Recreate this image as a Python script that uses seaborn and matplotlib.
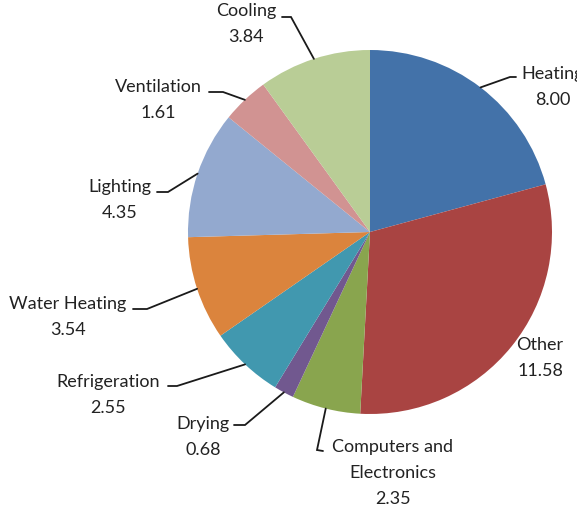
import numpy as np
import matplotlib
matplotlib.use("Agg")
import matplotlib.pyplot as plt
import seaborn as sns

# Energy end-use shares, drawn clockwise from 12 o'clock
categories = ["Heating", "Other", "Computers and\nElectronics", "Drying",
              "Refrigeration", "Water Heating", "Lighting", "Ventilation", "Cooling"]
values = [8.00, 11.58, 2.35, 0.68, 2.55, 3.54, 4.35, 1.61, 3.84]
colors = ["#4372A9", "#A94442", "#89A54E", "#71588F", "#4198AF",
          "#DB843D", "#93A9CF", "#D19392", "#B9CD96"]

# Label layout in pixels: text block centre, leader knee, leader end (None = no leader)
W, H = 577, 514
CX, CY, R = 370, 232, 182
label_centers = [(553, 87), (540, 358), (393, 473), (203, 437), (108, 395),
                 (68, 317), (120, 200), (158, 100), (246, 24)]
leader_knees = [(510, 77), None, (317, 450), (245, 425), (177, 386),
                (147, 309), (168, 192), (223, 92), (291, 17)]
leader_ends = [(516, 77), None, (323, 451), (234, 425), (168, 386),
               (133, 309), (157, 192), (209, 92), (282, 17)]

sns.set_theme(style="white")
plt.rcParams["font.family"] = ["Lato", "DejaVu Sans"]


def to_data(p):
    return ((p[0] - CX) / R, (CY - p[1]) / R)


fig = plt.figure(figsize=(W / 100, H / 100), dpi=100)
ax = fig.add_axes([0, 0, 1, 1])
wedges, _ = ax.pie(values, colors=colors, startangle=90, counterclock=False,
                   radius=1.0, center=(0, 0), wedgeprops=dict(linewidth=0))
ax.set_xlim(-CX / R, (W - CX) / R)
ax.set_ylim((CY - H) / R, CY / R)
ax.set_aspect("auto")
ax.axis("off")

for w, name, val, c, knee, end in zip(wedges, categories, values,
                                      label_centers, leader_knees, leader_ends):
    ang = np.deg2rad((w.theta1 + w.theta2) / 2)
    tx, ty = to_data(c)
    ax.text(tx, ty, f"{name}\n{val:.2f}", ha="center", va="center",
            fontsize=13, color="#222222", linespacing=1.75)
    if knee is not None:
        sx, sy = np.cos(ang), np.sin(ang)
        kx, ky = to_data(knee)
        ex, ey = to_data(end)
        ax.plot([sx, kx, ex], [sy, ky, ey], color="#1a1a1a", lw=1.3,
                solid_joinstyle="miter")

fig.savefig("out.png", dpi=100)
